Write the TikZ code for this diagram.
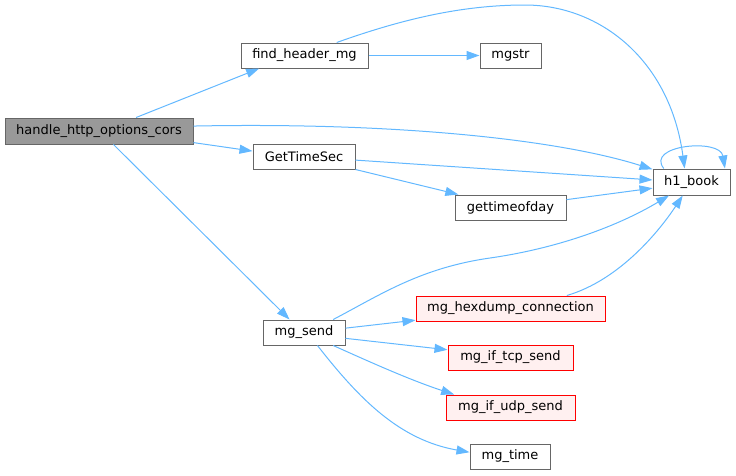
\documentclass[tikz,border=0pt]{standalone}
\usepackage{fontspec}
\setmainfont{DejaVu Sans}
\usetikzlibrary{arrows.meta}
\definecolor{edgeblue}{HTML}{63B8FF}
\definecolor{boxgray}{HTML}{666666}
\definecolor{rootfill}{HTML}{999999}
\definecolor{extfill}{HTML}{FFF0F0}

\begin{document}
\begin{tikzpicture}[x=1pt,y=-1pt,
    fn/.style={draw=boxgray,fill=white,line width=1pt,minimum height=25pt,inner sep=0pt,font=\fontsize{13}{15}\selectfont},
    root/.style={fn,fill=rootfill,minimum height=26pt},
    ext/.style={fn,draw=red,fill=extfill},
    call/.style={draw=edgeblue,line width=1pt,-{Triangle[length=13pt,width=9pt]}}]
\useasboundingbox (0,0) rectangle (736,475);
    %call graph
\node[root,minimum width=188pt] (hdl) at (99,131) {handle\_http\_options\_cors};
\node[fn,minimum width=127pt] (fhm) at (304.5,55.5) {find\_header\_mg};
\node[fn,minimum width=102pt] (gts) at (304,156.5) {GetTimeSec};
\node[fn,minimum width=82pt] (send) at (304,332.5) {mg\_send};
\node[fn,minimum width=61pt] (mgstr) at (510.5,55.5) {mgstr};
\node[fn,minimum width=111pt] (gtod) at (510.5,207.5) {gettimeofday};
\node[ext,minimum width=189pt] (hexd) at (510.5,308.5) {mg\_hexdump\_connection};
\node[ext,minimum width=125pt] (tcp) at (510.5,357.5) {mg\_if\_tcp\_send};
\node[ext,minimum width=129pt] (udp) at (510.5,407.5) {mg\_if\_udp\_send};
\node[fn,minimum width=80pt] (mtime) at (510,456.5) {mg\_time};
\node[fn,minimum width=77pt,minimum height=26pt] (hbook) at (691.5,182) {h1\_book};

\draw[call] (hdl.20) -- (fhm.196);
\draw[call] (hdl.3) .. controls (400,122) and (560,140) .. (hbook.162);
\draw[call] (hdl.-7) -- (gts.174);
\draw[call] (hdl.-43) -- (send.138);

\draw[call] (fhm.east) -- (mgstr.west);
\draw[call] (fhm.22) .. controls (400,20) and (460,5) .. (525,5)
    .. controls (600,5) and (670,60) .. (hbook.117);

\draw[call] (gts.-4) -- (hbook.177);
\draw[call] (gts.south east) -- (gtod.166);
\draw[call] (gtod.8) -- (hbook.189);
\draw[call] (hbook.154) .. controls (645,145) and (720,138) .. (hbook.22);

\draw[call] (send.24) .. controls (380,295) and (420,268) .. (490,258)
    .. controls (560,248) and (620,225) .. (hbook.211);
\draw[call] (hexd.13) .. controls (620,280) and (660,230) .. (hbook.237);
\draw[call] (send.6) -- (hexd.187);
\draw[call] (send.-8) -- (tcp.173);
\draw[call] (send.-24) .. controls (370,362) and (410,380) .. (udp.167);
\draw[call] (send.-44) .. controls (360,400) and (400,440) .. (mtime.174);
\end{tikzpicture}
\end{document}
